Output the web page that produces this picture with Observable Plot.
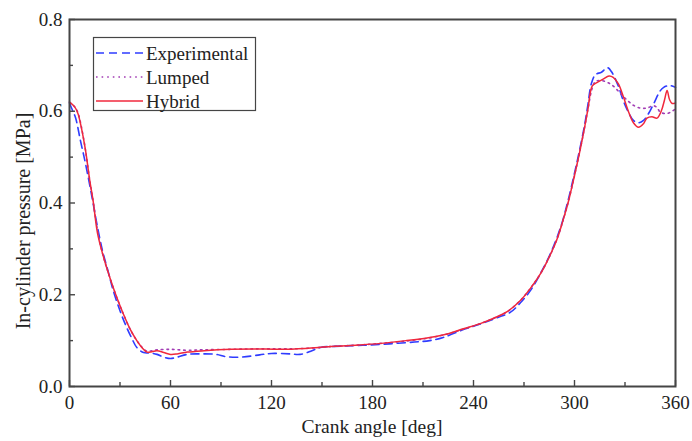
<!DOCTYPE html>
<html>
<head>
<meta charset="utf-8">
<script src="https://cdn.jsdelivr.net/npm/d3@7"></script>
<script src="https://cdn.jsdelivr.net/npm/@observablehq/plot@0.6"></script>
<style>
  html, body { margin: 0; padding: 0; background: #fff; }
  #chart { width: 692px; height: 441px; }
</style>
</head>
<body>
<div id="chart"></div>
<script>
const seriesNames = ["Experimental", "Lumped", "Hybrid"];
const xTitle = "Crank angle [deg]";
const yTitle = "In-cylinder pressure [MPa]";

const expAngle = [0,2,3.6,6.5,9.5,13.5,16.5,19.6,23,26,30,33,37,40,44,48,52,56,60,64,70,78,87,93,102,113,120,131,137,144,149,161,175,190,205,214,222,234,244,254,262,268,274,280,286,292,296.5,300,303,306,308,310,312.5,316,319.6,322,326,329,332,335,338,341,344,347,351,353,356,358,360];
const expPressure = [0.618,0.6,0.586,0.536,0.486,0.41,0.35,0.296,0.25,0.209,0.165,0.137,0.105,0.085,0.074,0.073,0.07,0.064,0.061,0.064,0.07,0.071,0.07,0.065,0.064,0.069,0.072,0.071,0.07,0.078,0.085,0.088,0.09,0.093,0.097,0.1,0.107,0.124,0.136,0.15,0.162,0.183,0.21,0.248,0.292,0.35,0.41,0.465,0.515,0.57,0.615,0.66,0.68,0.685,0.695,0.686,0.655,0.623,0.598,0.58,0.575,0.58,0.595,0.616,0.645,0.652,0.656,0.655,0.652];

const lumAngle = [0,3,5,7,9.5,12,14,17,20,24,28,32,36,40,43,46,49,52,60,70,80,96,110,125,140,155,170,185,200,214,225,234,244,254,260,268,274,280,286,290,293,296.5,300,303,306,308,310.5,312.5,316,320,323,327,331,335,339,343,347,349,351,355,358,360];
const lumPressure = [0.62,0.61,0.597,0.567,0.515,0.45,0.405,0.333,0.285,0.237,0.195,0.158,0.125,0.1,0.086,0.077,0.078,0.08,0.081,0.079,0.08,0.081,0.082,0.082,0.083,0.087,0.09,0.094,0.099,0.106,0.115,0.125,0.137,0.152,0.163,0.188,0.215,0.247,0.29,0.325,0.36,0.405,0.46,0.51,0.565,0.605,0.65,0.665,0.667,0.662,0.655,0.64,0.625,0.613,0.607,0.607,0.612,0.608,0.598,0.595,0.6,0.605];

const hybAngle = [0,3,5,7,9.5,12,14,16.6,20,24,28,32,36,40,43,46,49,52,56,60,64,70,80,96,110,125,140,155,170,185,200,214,225,234,244,254,260,268,274,280,286,290,293,296.5,300,303,306,308,310.5,313,317,320.5,323,326,329,332,335,338,341,343,346,349,351.5,353.5,355,356.5,358,360];
const hybPressure = [0.62,0.61,0.595,0.565,0.515,0.45,0.405,0.335,0.285,0.237,0.195,0.158,0.125,0.1,0.085,0.075,0.076,0.078,0.074,0.07,0.071,0.075,0.078,0.081,0.082,0.081,0.083,0.087,0.09,0.094,0.1,0.107,0.115,0.126,0.137,0.152,0.163,0.188,0.215,0.247,0.29,0.325,0.36,0.405,0.46,0.51,0.565,0.605,0.655,0.662,0.67,0.677,0.674,0.66,0.632,0.6,0.575,0.565,0.573,0.585,0.588,0.585,0.6,0.625,0.645,0.625,0.617,0.618];

const xMajorTicks = [0, 60, 120, 180, 240, 300, 360];
const xMinorTicks = [30, 90, 150, 210, 270, 330];
const yMajorTicks = [0.0, 0.2, 0.4, 0.6, 0.8];
const yMinorTicks = [0.1, 0.3, 0.5, 0.7];

const colors = {Experimental: "#2f3cff", Lumped: "#a23cb4", Hybrid: "#f0283c"};
const dashes = {Experimental: "8,5", Lumped: "1.6,4", Hybrid: null};

const toRows = (a, p) => a.map((x, i) => ({angle: x, p: p[i]}));
const expRows = toRows(expAngle, expPressure);
const lumRows = toRows(lumAngle, lumPressure);
const hybRows = toRows(hybAngle, hybPressure);

const font = "'Liberation Serif', 'Times New Roman', serif";
const axisColor = "#454545";

const chart = Plot.plot({
  width: 692,
  height: 441,
  marginLeft: 69,
  marginRight: 17,
  marginTop: 19,
  marginBottom: 55,
  style: {fontFamily: font, fontSize: "19px", color: "#222", background: "#fff"},
  x: {domain: [0, 360]},
  y: {domain: [0, 0.8]},
  marks: [
    Plot.line(expRows, {x: "angle", y: "p", stroke: colors.Experimental, strokeWidth: 1.6, strokeDasharray: dashes.Experimental, curve: "catmull-rom"}),
    Plot.line(lumRows, {x: "angle", y: "p", stroke: colors.Lumped, strokeWidth: 1.6, strokeDasharray: dashes.Lumped, curve: "catmull-rom"}),
    Plot.line(hybRows, {x: "angle", y: "p", stroke: colors.Hybrid, strokeWidth: 1.5, curve: "catmull-rom"}),
    Plot.frame({stroke: axisColor, strokeWidth: 2}),
    Plot.axisX({ticks: xMajorTicks, tickSize: -6, text: null, stroke: axisColor, strokeWidth: 1.4, label: null}),
    Plot.axisX({ticks: xMinorTicks, tickSize: -4, text: null, stroke: axisColor, strokeWidth: 1.4, label: null}),
    Plot.axisX({ticks: xMajorTicks, tickSize: 0, tickPadding: 9, fontSize: 19, fill: "#222",
      tickFormat: d => String(d), label: null}),
    Plot.axisY({ticks: yMajorTicks, tickSize: -6, text: null, stroke: axisColor, strokeWidth: 1.4, label: null}),
    Plot.axisY({ticks: yMinorTicks, tickSize: -4, text: null, stroke: axisColor, strokeWidth: 1.4, label: null}),
    Plot.axisY({ticks: yMajorTicks, tickSize: 0, tickPadding: 7, fontSize: 19, fill: "#222",
      tickFormat: d => d.toFixed(1), label: null})
  ]
});

document.getElementById("chart").appendChild(chart);

const svg = d3.select(chart);

// Axis titles
svg.append("text").attr("x", 372).attr("y", 433).attr("text-anchor", "middle")
  .attr("font-family", font).attr("font-size", 19.5).attr("fill", "#222").text(xTitle);
svg.append("text").attr("transform", "translate(30,221) rotate(-90)").attr("text-anchor", "middle")
  .attr("font-family", font).attr("font-size", 20).attr("fill", "#222").text(yTitle);

// Legend drawn inside the SVG
const lg = svg.append("g").attr("font-family", font).attr("font-size", 19).attr("fill", "#222")
  .attr("text-anchor", "start");
lg.append("rect").attr("x", 93.5).attr("y", 37.5).attr("width", 162).attr("height", 73)
  .attr("fill", "#fff").attr("stroke", axisColor).attr("stroke-width", 1.2);
seriesNames.forEach((name, i) => {
  const cy = 53 + i * 24;
  lg.append("line").attr("x1", 96).attr("x2", 143).attr("y1", cy).attr("y2", cy)
    .attr("stroke", colors[name]).attr("stroke-width", 1.6)
    .attr("stroke-dasharray", dashes[name]);
  lg.append("text").attr("x", 146).attr("y", cy).attr("dy", "0.35em")
    .attr("text-anchor", "start").text(name);
});
</script>
</body>
</html>
